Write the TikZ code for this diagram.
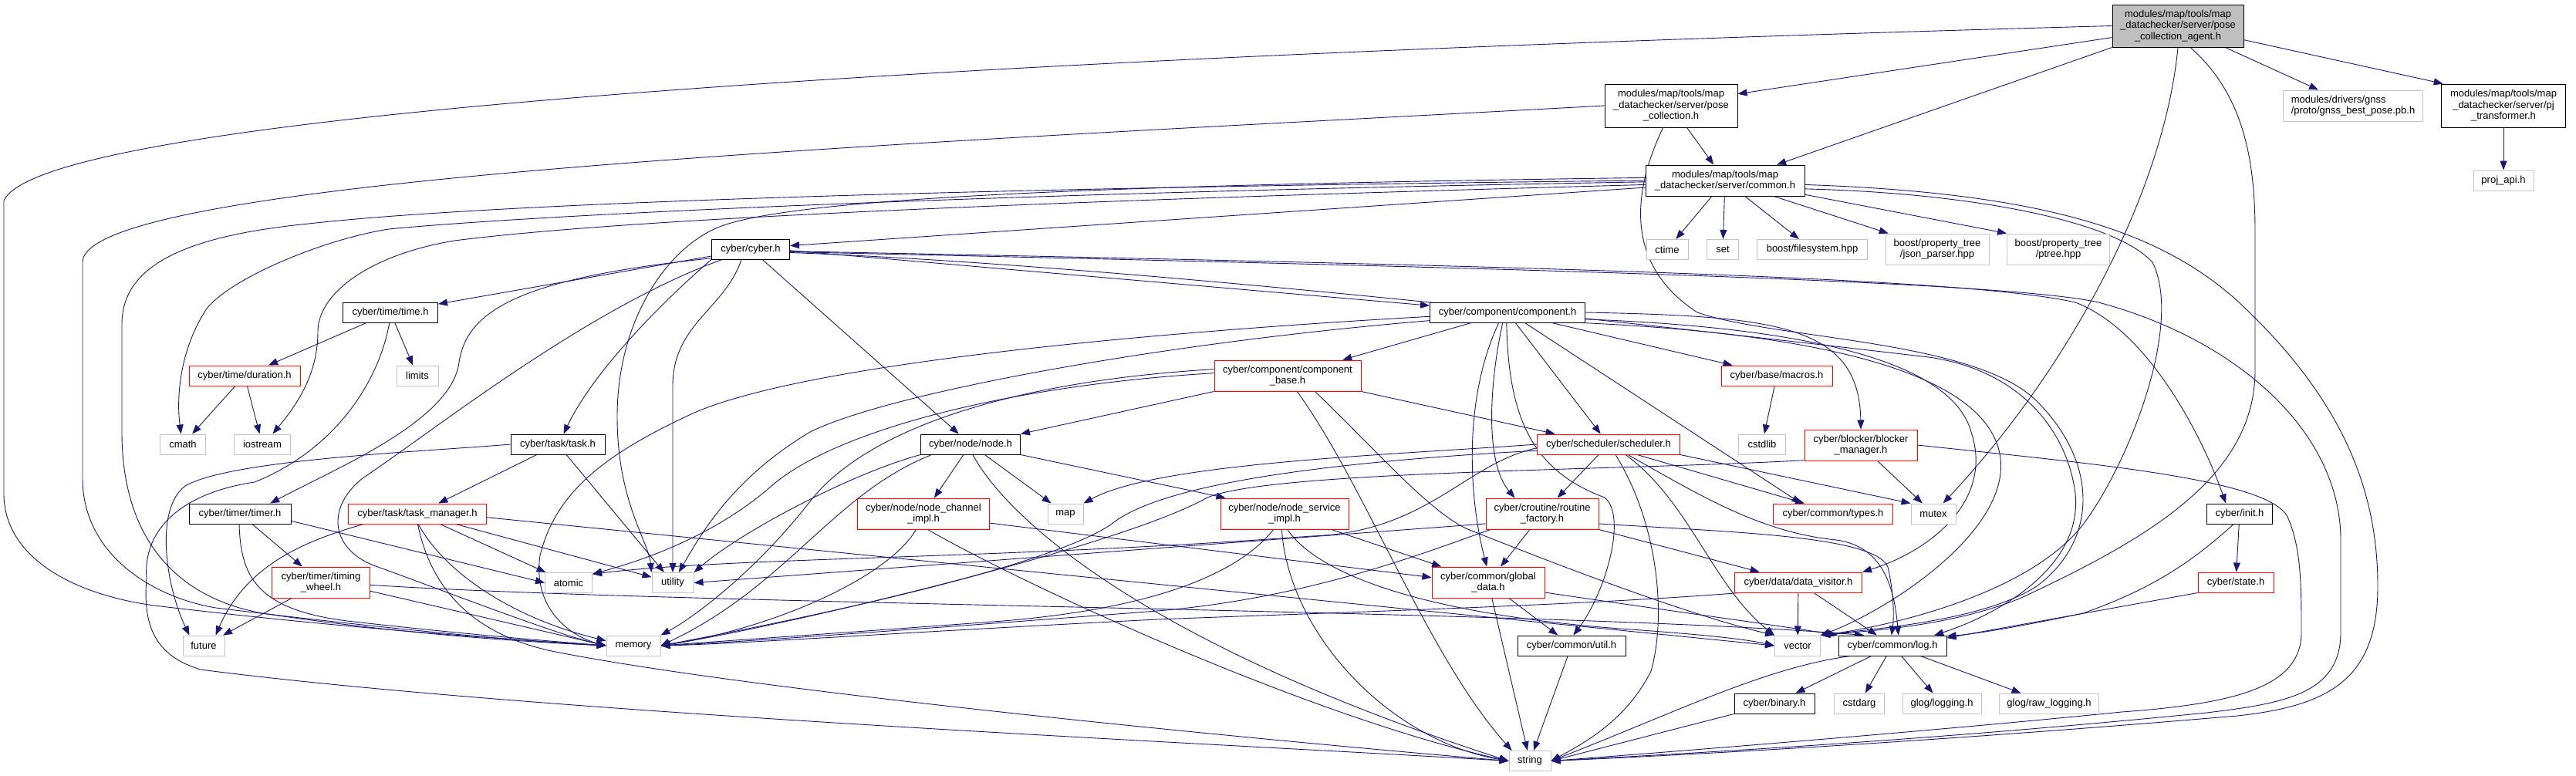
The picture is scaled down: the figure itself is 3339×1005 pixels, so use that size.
\documentclass[tikz,border=0pt]{standalone}
\usepackage{fontspec}
\setmainfont{Liberation Sans}
\usetikzlibrary{arrows.meta}
\definecolor{eblue}{HTML}{191970}
\definecolor{gline}{HTML}{C4C4C4}
\definecolor{rootfill}{HTML}{BFBFBF}
\pgfdeclarelayer{bglayer}
\pgfdeclarelayer{edgelayer}
\pgfsetlayers{bglayer,edgelayer,main}
\begin{document}
\begin{tikzpicture}[x=1pt,y=-1pt,
  font=\fontsize{13}{14.5}\selectfont,
  bx/.style={rectangle, inner sep=0pt, align=center, fill=white, line width=1pt},
  nb/.style={bx, draw=black},
  ng/.style={bx, draw=gline},
  nr/.style={bx, draw=red},
  sz/.style 2 args={minimum width=#1pt, minimum height=#2pt},
  ed/.style={draw=eblue, line width=0.9pt, -{Triangle[length=12pt,width=9pt]}}
]
\begin{pgfonlayer}{bglayer}
\path[use as bounding box, fill=white] (0,0) rectangle (3339,1005);
\end{pgfonlayer}

\node[nb, fill=rootfill, sz={170}{55}] (agent) at (2823,33.5) {modules/map/tools/map\\\_datachecker/server/pose\\\_collection\_agent.h};
\node[ng, sz={181}{40}, align=left] (gnss) at (3050,137) {modules/drivers/gnss\\/proto/gnss\_best\_pose.pb.h};
\node[nb, sz={161}{56}] (pj) at (3245,137) {modules/map/tools/map\\\_datachecker/server/pj\\\_transformer.h};
\node[ng, sz={78}{26}] (projapi) at (3245,234) {proj\_api.h};
\node[nb, sz={172}{56}] (posecol) at (2166,137) {modules/map/tools/map\\\_datachecker/server/pose\\\_collection.h};
\node[nb, sz={206}{40}] (common) at (2236,234) {modules/map/tools/map\\\_datachecker/server/common.h};
\node[ng, sz={54}{26}] (ctime) at (2161,323.5) {ctime};
\node[ng, sz={41}{26}] (set) at (2233,323.5) {set};
\node[ng, sz={143}{26}] (fs) at (2349,323.5) {boost/filesystem.hpp};
\node[ng, sz={134}{40}] (json) at (2511,323) {boost/property\_tree\\/json\_parser.hpp};
\node[ng, sz={133}{40}] (ptree) at (2668,323) {boost/property\_tree\\/ptree.hpp};
\node[nb, sz={101}{26}] (cyber) at (973,323) {cyber/cyber.h};
\node[nb, sz={123}{26}] (time) at (506,405) {cyber/time/time.h};
\node[nr, sz={144}{26}] (duration) at (317,487) {cyber/time/duration.h};
\node[ng, sz={54}{26}] (limits) at (541,487) {limits};
\node[ng, sz={59}{26}] (cmath) at (237,576) {cmath};
\node[ng, sz={73}{26}] (iostream) at (340,576) {iostream};
\node[nb, sz={122}{26}] (task) at (723,576) {cyber/task/task.h};
\node[nb, sz={132}{26}] (timer) at (311,666) {cyber/timer/timer.h};
\node[nr, sz={179}{26}] (taskmgr) at (541,666) {cyber/task/task\_manager.h};
\node[nr, sz={127}{40}] (timingwheel) at (416,755) {cyber/timer/timing\\\_wheel.h};
\node[ng, sz={61}{26}] (atomic) at (737,755.5) {atomic};
\node[ng, sz={54}{26}] (future) at (264,837) {future};
\node[ng, sz={70}{26}] (memory) at (821,837) {memory};
\node[ng, sz={54}{26}] (utility) at (872,755.5) {utility};
\node[nb, sz={129}{26}] (nodeh) at (1258,576) {cyber/node/node.h};
\node[nr, sz={190}{40}] (compbase) at (1669,487) {cyber/component/component\\\_base.h};
\node[nr, sz={171}{40}] (nodechan) at (1197,666) {cyber/node/node\_channel\\\_impl.h};
\node[ng, sz={46}{26}] (map) at (1381,666) {map};
\node[nr, sz={166}{40}] (nodesvc) at (1665,666) {cyber/node/node\_service\\\_impl.h};
\node[nb, sz={201}{26}] (component) at (1954,405) {cyber/component/component.h};
\node[nr, sz={144}{26}] (macros) at (2303,487) {cyber/base/macros.h};
\node[nr, sz={185}{26}] (scheduler) at (2085,576) {cyber/scheduler/scheduler.h};
\node[ng, sz={61}{26}] (cstdlib) at (2284,576) {cstdlib};
\node[nr, sz={146}{40}] (blocker) at (2412,577) {cyber/blocker/blocker\\\_manager.h};
\node[nr, sz={146}{40}] (routine) at (1999,666) {cyber/croutine/routine\\\_factory.h};
\node[nr, sz={155}{26}] (types) at (2376,666) {cyber/common/types.h};
\node[ng, sz={58}{26}] (mutex) at (2506,666) {mutex};
\node[nb, sz={85}{26}] (init) at (2903,666) {cyber/init.h};
\node[nr, sz={98}{26}] (state) at (2898,755) {cyber/state.h};
\node[nb, sz={140}{26}] (log) at (2453,837) {cyber/common/log.h};
\node[ng, sz={129}{26}] (rawlog) at (2656,912) {glog/raw\_logging.h};
\node[ng, sz={102}{26}] (glog) at (2517,912) {glog/logging.h};
\node[nr, sz={146}{40}] (globaldata) at (1929,755) {cyber/common/global\\\_data.h};
\node[nr, sz={165}{26}] (datavis) at (2331,755) {cyber/data/data\_visitor.h};
\node[nb, sz={140}{26}] (util) at (2037,837) {cyber/common/util.h};
\node[ng, sz={59}{26}] (vector) at (2330,837) {vector};
\node[nb, sz={104}{26}] (binary) at (2300,912) {cyber/binary.h};
\node[ng, sz={65}{26}] (cstdarg) at (2410,912) {cstdarg};
\node[ng, sz={54}{26}] (string) at (1983,986.5) {string};

\begin{pgfonlayer}{edgelayer}
% agent
\draw[ed] (agent.west) .. controls (1400,70) and (60,140) .. (5,260) -- (5,640) .. controls (5,720) and (90,770) .. (200,785) .. controls (450,815) and (650,828) .. (memory.west);
\draw[ed] (agent.190) -- (posecol.10);
\draw[ed] (agent.south west) -- (common.17);
\draw[ed] (agent.south) .. controls (2805,250) and (2680,480) .. (mutex);
\draw[ed] (agent.-60) .. controls (2905,120) and (2923,200) .. (2923,300) -- (2923,480) .. controls (2923,620) and (2780,700) .. (2620,775) .. controls (2530,812) and (2420,818) .. (vector.north east);
\draw[ed] (agent) -- (gnss);
\draw[ed] (agent.-12) -- (pj.160);
\draw[ed] (pj) -- (projapi);
% pose collection
\draw[ed] (posecol.west) .. controls (1200,185) and (107,230) .. (107,340) -- (107,620) .. controls (107,720) and (200,775) .. (280,788) .. controls (500,815) and (660,830) .. (memory.west);
\draw[ed] (posecol) -- (common);
\draw[ed] (posecol.-110) .. controls (2120,240) and (2100,340) .. (2200,405) .. controls (2300,440) and (2560,440) .. (2640,520) .. controls (2720,600) and (2720,700) .. (2640,760) .. controls (2570,805) and (2430,815) .. (vector.north east);
% common
\draw[ed] (common) -- (ctime);
\draw[ed] (common) -- (set);
\draw[ed] (common) -- (fs);
\draw[ed] (common) -- (json);
\draw[ed] (common.-10) -- (ptree.north west);
\draw[ed] (common.185) -- (cyber.5);
\draw[ed] (common.180) .. controls (1300,243) and (650,262) .. (400,290) .. controls (250,305) and (158,340) .. (158,420) -- (158,560) .. controls (158,700) and (230,775) .. (340,795) .. controls (520,822) and (680,832) .. (memory.west);
\draw[ed] (common.181) .. controls (1300,250) and (700,278) .. (504,297) .. controls (420,310) and (300,360) .. (268,400) .. controls (235,450) and (228,510) .. (cmath.100);
\draw[ed] (common.183) .. controls (1300,262) and (800,285) .. (589,312) .. controls (480,330) and (412,380) .. (412,430) .. controls (412,490) and (380,530) .. (iostream.45);
\draw[ed] (common.178) .. controls (1400,240) and (1020,258) .. (930,295) .. controls (860,325) and (800,420) .. (800,540) .. controls (800,650) and (840,700) .. (utility.north west);
\draw[ed] (common.-3) .. controls (2650,250) and (2800,300) .. (2900,390) .. controls (3040,520) and (3082,640) .. (3082,760) .. controls (3082,880) and (3020,915) .. (2900,928) .. controls (2500,962) and (2200,978) .. (string.east);
\draw[ed] (common.-6) .. controls (2550,250) and (2740,285) .. (2790,340) .. controls (2830,420) and (2760,600) .. (2700,680) .. controls (2630,770) and (2450,812) .. (vector.north east);
% cyber
\draw[ed] (cyber.190) -- (time.10);
\draw[ed] (cyber.193) .. controls (680,360) and (605,400) .. (595,470) .. controls (585,545) and (440,605) .. (timer.19);
\draw[ed] (cyber.south west) .. controls (860,390) and (770,480) .. (task.61);
\draw[ed] (cyber) -- (nodeh);
\draw[ed] (cyber.-2) -- (component.175);
\draw[ed] (cyber.-3) .. controls (2000,345) and (2550,360) .. (2690,392) .. controls (2790,430) and (2860,580) .. (init.143);
\draw[ed] (cyber.-4) .. controls (2000,348) and (2600,365) .. (2720,392) .. controls (2900,440) and (3034,560) .. (3034,700) -- (3034,820) .. controls (3034,900) and (2960,912) .. (2860,924) .. controls (2500,960) and (2200,976) .. (string.east);
\draw[ed] (cyber.-5) .. controls (1500,345) and (2300,440) .. (2500,463) .. controls (2620,480) and (2680,560) .. (2690,640) .. controls (2700,740) and (2580,800) .. (log.14);
\draw[ed] ([xshift=-12pt]cyber.south) .. controls (940,400) and (872,420) .. (872,500) -- (utility.north);
\draw[ed] (cyber.200) .. controls (760,400) and (560,560) .. (470,620) .. controls (420,660) and (430,715) .. (490,735) .. controls (600,775) and (720,822) .. (memory.west);
% time
\draw[ed] (time) -- (duration);
\draw[ed] (time) -- (limits);
\draw[ed] (time.-95) .. controls (490,500) and (430,585) .. (330,625) .. controls (230,640) and (185,690) .. (190,750) .. controls (185,810) and (200,850) .. (260,868) .. controls (700,925) and (1600,965) .. (string.west);
\draw[ed] (duration) -- (cmath);
\draw[ed] (duration) -- (iostream);
% task
\draw[ed] (task.west) .. controls (560,585) and (300,595) .. (240,630) .. controls (200,660) and (215,760) .. (future.144);
\draw[ed] (task) -- (taskmgr);
\draw[ed] (task) -- (utility);
% task manager
\draw[ed] ([xshift=-70pt]taskmgr.south) .. controls (400,700) and (320,730) .. (future.41);
\draw[ed] (taskmgr) -- (atomic);
\draw[ed] (taskmgr.-85) .. controls (575,740) and (660,800) .. (memory.170);
\draw[ed] (taskmgr.-88) .. controls (560,770) and (620,825) .. (720,845) .. controls (1000,900) and (1700,965) .. (string.west);
\draw[ed] (taskmgr) -- (utility);
\draw[ed] (taskmgr.-3) -- (vector.west);
% timer
\draw[ed] (timer.-8) -- (atomic.west);
\draw[ed] ([xshift=-1pt]timer.south) .. controls (312,745) and (330,790) .. (450,805) .. controls (600,822) and (700,830) .. (memory.west);
\draw[ed] (timer) -- (timingwheel);
% timing wheel
\draw[ed] (timingwheel) -- (future);
\draw[ed] (timingwheel.-10) -- (memory.west);
\draw[ed] (timingwheel.-3) .. controls (900,785) and (2000,790) .. (log.160);
% node
\draw[ed] (nodeh) -- (nodechan);
\draw[ed] (nodeh) -- (map);
\draw[ed] (nodeh.south east) -- (nodesvc.165);
\draw[ed] (nodeh.-78) .. controls (1310,680) and (1500,840) .. (string.west);
\draw[ed] (nodeh.south west) .. controls (1100,615) and (960,690) .. (utility.north east);
\draw[ed] (nodeh.-165) .. controls (1080,640) and (1020,760) .. (memory.east);
% node channel
\draw[ed] (nodechan.-115) .. controls (1150,750) and (1000,815) .. (memory.east);
\draw[ed] (nodechan.-75) .. controls (1330,760) and (1700,930) .. (string.west);
\draw[ed] (nodechan.-8) -- (globaldata.175);
% node service
\draw[ed] (nodesvc.-125) .. controls (1600,750) and (1480,790) .. (1300,805) .. controls (1100,820) and (950,830) .. (memory.east);
\draw[ed] (nodesvc.-100) .. controls (1670,820) and (1800,960) .. (string.west);
\draw[ed] (nodesvc) -- (globaldata);
\draw[ed] (nodesvc.-80) .. controls (1720,760) and (1900,800) .. (2100,815) .. controls (2200,822) and (2260,828) .. (vector.west);
% component base
\draw[ed] (compbase.south west) -- (nodeh.north east);
\draw[ed] (compbase.south east) -- (scheduler.169);
\draw[ed] (compbase.-59) .. controls (1770,630) and (1850,850) .. (string.150);
\draw[ed] (compbase.-30) .. controls (1790,590) and (1850,660) .. (1900,685) .. controls (2050,745) and (2200,800) .. (vector.north west);
\draw[ed] (compbase.178) .. controls (1300,500) and (1080,560) .. (1000,630) .. controls (920,700) and (820,730) .. (atomic.20);
\draw[ed] (compbase.175) .. controls (1300,495) and (1120,560) .. (1050,650) .. controls (980,740) and (900,800) .. (memory.north east);
% component
\draw[ed] (component) -- (compbase);
\draw[ed] (component) -- (macros);
\draw[ed] (component) -- (scheduler);
\draw[ed] (component.-115) .. controls (1930,500) and (1925,600) .. (routine.150);
\draw[ed] (component.-130) .. controls (1895,520) and (1905,650) .. (globaldata.95);
\draw[ed] (component.-95) .. controls (1955,540) and (1985,610) .. (2080,645) .. controls (2110,670) and (2080,770) .. (util.80);
\draw[ed] (component.-31) -- (types.162);
\draw[ed] (component.east) .. controls (2300,410) and (2410,420) .. (blocker.north);
\draw[ed] (component.-5) .. controls (2350,425) and (2530,470) .. (2555,560) .. controls (2585,650) and (2500,715) .. (datavis.north east);
\draw[ed] (component.-8) .. controls (2350,432) and (2560,480) .. (2590,580) .. controls (2620,680) and (2450,790) .. (vector.north east);
\draw[ed] (component.183) .. controls (1500,430) and (1050,470) .. (900,535) .. controls (780,590) and (720,640) .. (700,720) .. controls (690,790) and (740,825) .. (memory.west);
\draw[ed] (component.186) .. controls (1500,445) and (1150,510) .. (1050,560) .. controls (950,620) and (910,690) .. (utility.60);
% scheduler
\draw[ed] (scheduler) -- (routine);
\draw[ed] (scheduler.-20) -- (types.160);
\draw[ed] (scheduler.south east) -- (mutex.north west);
\draw[ed] ([xshift=9pt]scheduler.south) .. controls (2150,680) and (2160,800) .. (2140,870) .. controls (2110,930) and (2060,960) .. (string.east);
\draw[ed] ([xshift=22pt]scheduler.south) .. controls (2190,650) and (2220,760) .. (vector.north west);
\draw[ed] ([xshift=25pt]scheduler.south) .. controls (2200,640) and (2280,690) .. (2380,700) .. controls (2440,708) and (2455,760) .. (log.60);
\draw[ed] (scheduler.west) .. controls (1800,590) and (1500,600) .. (map.north east);
\draw[ed] (scheduler.185) .. controls (1700,600) and (1500,630) .. (1440,680) .. controls (1350,740) and (1000,810) .. (memory.east);
\draw[ed] (scheduler.183) .. controls (1900,600) and (1850,690) .. (1700,695) .. controls (1300,725) and (950,722) .. (atomic.20);
% routine factory
\draw[ed] (routine.190) -- (utility.east);
\draw[ed] (routine.-163) .. controls (1850,715) and (1700,775) .. (1500,792) .. controls (1200,815) and (950,833) .. (memory.east);
\draw[ed] (routine) -- (globaldata);
\draw[ed] (routine.-10) .. controls (2250,690) and (2430,695) .. (2447,735) .. controls (2455,770) and (2455,800) .. (log.95);
\draw[ed] (routine.south east) -- (datavis.165);
% global data
\draw[ed] (globaldata) -- (string);
\draw[ed] (globaldata) -- (util);
\draw[ed] (globaldata.-10) .. controls (2150,790) and (2300,810) .. (log.north west);
% data visitor
\draw[ed] (datavis) -- (vector);
\draw[ed] (datavis) -- (log);
\draw[ed] (datavis.190) .. controls (2050,785) and (1700,795) .. (1500,803) .. controls (1200,818) and (950,835) .. (memory.east);
% blocker
\draw[ed] (blocker) -- (mutex);
\draw[ed] (blocker.195) .. controls (2100,610) and (1650,610) .. (1565,645) .. controls (1450,710) and (1000,815) .. (memory.east);
\draw[ed] (blocker.east) .. controls (2700,600) and (2940,620) .. (2965,670) .. controls (2983,710) and (2983,760) .. (2983,820) .. controls (2983,890) and (2900,912) .. (2750,923) .. controls (2500,948) and (2200,972) .. (string.east);
% misc
\draw[ed] (macros) -- (cstdlib);
\draw[ed] (util) -- (string);
\draw[ed] (init) -- (state);
\draw[ed] (init.-120) .. controls (2850,720) and (2800,760) .. (2700,795) .. controls (2620,812) and (2560,822) .. (log.10);
\draw[ed] (state.south west) -- (log.8);
% log
\draw[ed] (log) -- (binary);
\draw[ed] (log) -- (cstdarg);
\draw[ed] (log) -- (glog);
\draw[ed] (log) -- (rawlog);
\draw[ed] ([xshift=16pt]log.south west) .. controls (2290,865) and (2180,920) .. (string.east);
\draw[ed] (binary.south west) -- (string.east);
\end{pgfonlayer}
\end{tikzpicture}
\end{document}
